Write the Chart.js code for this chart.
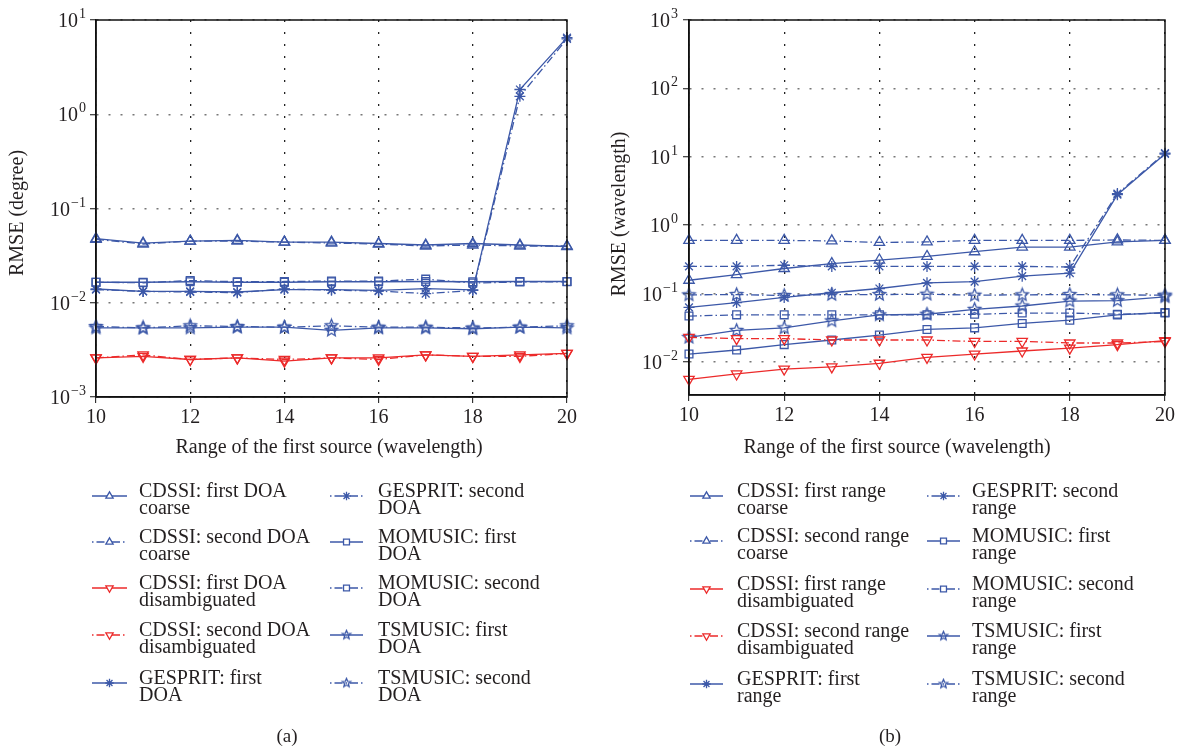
<!DOCTYPE html>
<html>
<head>
<meta charset="utf-8">
<script src="https://cdn.jsdelivr.net/npm/chart.js@4.4.1/dist/chart.umd.min.js"></script>
<style>
html, body { margin: 0; padding: 0; background: #fff; }
#wrap { position: relative; width: 1181px; height: 751px; }
canvas { position: absolute; top: 0; }
#chartA { left: 0; }
#chartB { left: 590px; }
</style>
</head>
<body>
<div id="wrap">
  <canvas id="chartA" width="590" height="751"></canvas>
  <canvas id="chartB" width="591" height="751"></canvas>
</div>
<script>
// range of the first source (wavelength)
const ranges = [10, 11, 12, 13, 14, 15, 16, 17, 18, 19, 20];
const xTicks = [10, 12, 14, 16, 18, 20];
const yTicksA = [1e-3, 1e-2, 1e-1, 1, 10];
const yTicksB = [1e-2, 1e-1, 1, 10, 100, 1000];

// (a) RMSE (degree)
const doaCoarse1 = [0.048, 0.043, 0.045, 0.046, 0.044, 0.044, 0.0425, 0.041, 0.0425, 0.041, 0.0395];
const doaCoarse2 = [0.047, 0.042, 0.045, 0.045, 0.044, 0.043, 0.042, 0.040, 0.041, 0.040, 0.040];
const doaDisamb1 = [0.0026, 0.0027, 0.0025, 0.0026, 0.0024, 0.0026, 0.0026, 0.0028, 0.0027, 0.0028, 0.0029];
const doaDisamb2 = [0.0026, 0.0028, 0.0025, 0.0026, 0.0025, 0.0026, 0.0025, 0.0028, 0.0027, 0.0027, 0.0029];
const doaGesprit1 = [0.014, 0.0132, 0.0132, 0.013, 0.0138, 0.0138, 0.0135, 0.0141, 0.0137, 1.83, 6.5];
const doaGesprit2 = [0.0138, 0.0132, 0.013, 0.0128, 0.014, 0.0136, 0.0133, 0.0125, 0.0135, 1.55, 6.3];
const doaMomusic1 = [0.0165, 0.0165, 0.0167, 0.0165, 0.0165, 0.0167, 0.0167, 0.0168, 0.0167, 0.0168, 0.0168];
const doaMomusic2 = [0.0165, 0.0163, 0.0172, 0.0167, 0.0168, 0.017, 0.017, 0.0178, 0.0162, 0.0166, 0.0167];
const doaTsmusic1 = [0.0054, 0.0054, 0.0054, 0.0055, 0.0055, 0.0051, 0.0054, 0.0054, 0.0053, 0.0055, 0.0054];
const doaTsmusic2 = [0.0056, 0.0054, 0.0057, 0.0056, 0.0055, 0.0057, 0.0055, 0.0055, 0.0054, 0.0055, 0.0057];

// (b) RMSE (wavelength)
const rngCoarse1 = [0.157, 0.19, 0.233, 0.275, 0.31, 0.35, 0.41, 0.48, 0.48, 0.57, 0.60];
const rngCoarse2 = [0.60, 0.60, 0.60, 0.59, 0.56, 0.57, 0.60, 0.60, 0.60, 0.61, 0.60];
const rngDisamb1 = [0.0056, 0.0067, 0.0079, 0.0085, 0.0096, 0.0117, 0.0131, 0.0145, 0.016, 0.018, 0.0206];
const rngDisamb2 = [0.023, 0.022, 0.022, 0.021, 0.021, 0.021, 0.020, 0.020, 0.019, 0.019, 0.020];
const rngGesprit1 = [0.063, 0.074, 0.088, 0.103, 0.119, 0.144, 0.15, 0.18, 0.20, 2.8, 11.0];
const rngGesprit2 = [0.25, 0.25, 0.26, 0.25, 0.25, 0.25, 0.25, 0.25, 0.245, 2.9, 11.3];
const rngMomusic1 = [0.0131, 0.015, 0.018, 0.021, 0.0248, 0.030, 0.0316, 0.0367, 0.041, 0.049, 0.053];
const rngMomusic2 = [0.047, 0.049, 0.049, 0.049, 0.049, 0.049, 0.050, 0.052, 0.052, 0.050, 0.052];
const rngTsmusic1 = [0.023, 0.029, 0.0316, 0.040, 0.049, 0.050, 0.059, 0.066, 0.078, 0.079, 0.090];
const rngTsmusic2 = [0.096, 0.097, 0.094, 0.097, 0.097, 0.098, 0.095, 0.096, 0.097, 0.096, 0.095];

const labelsA = ['CDSSI: first DOA\ncoarse', 'CDSSI: second DOA\ncoarse', 'CDSSI: first DOA\ndisambiguated',
  'CDSSI: second DOA\ndisambiguated', 'GESPRIT: first\nDOA', 'GESPRIT: second\nDOA', 'MOMUSIC: first\nDOA',
  'MOMUSIC: second\nDOA', 'TSMUSIC: first\nDOA', 'TSMUSIC: second\nDOA'];
const labelsB = ['CDSSI: first range\ncoarse', 'CDSSI: second range\ncoarse', 'CDSSI: first range\ndisambiguated',
  'CDSSI: second range\ndisambiguated', 'GESPRIT: first\nrange', 'GESPRIT: second\nrange', 'MOMUSIC: first\nrange',
  'MOMUSIC: second\nrange', 'TSMUSIC: first\nrange', 'TSMUSIC: second\nrange'];

const BLUE = '#3c58a8';
const RED = '#ec2a2a';
const INK = '#231f20';
const SERIF = '"Liberation Serif", "DejaVu Serif", serif';
const DASHDOT = [8, 3, 1.5, 3];

// five point star marker (no built-in one in chart.js)
function pentagram(color, r) {
  const c = document.createElement('canvas');
  const s = Math.ceil(r * 2 + 4);
  c.width = c.height = s;
  const g = c.getContext('2d');
  g.strokeStyle = color;
  g.lineWidth = 1.3;
  g.beginPath();
  for (let k = 0; k < 10; k++) {
    const rad = k % 2 ? r * 0.45 : r;
    const a = -Math.PI / 2 + k * Math.PI / 5;
    g.lineTo(s / 2 + rad * Math.cos(a), s / 2 + rad * Math.sin(a));
  }
  g.closePath();
  g.stroke();
  return c;
}
const starBig = pentagram(BLUE, 6.5);
const starSmall = pentagram(BLUE, 4.5);

// marker/line look of the 10 series, same order in both panels
const looks = [
  { color: BLUE, dash: [], mark: 'triangle', rot: 0, r: 6 },
  { color: BLUE, dash: DASHDOT, mark: 'triangle', rot: 0, r: 6 },
  { color: RED, dash: [], mark: 'triangle', rot: 180, r: 6 },
  { color: RED, dash: DASHDOT, mark: 'triangle', rot: 180, r: 6 },
  { color: BLUE, dash: [], mark: 'star', rot: 0, r: 5.5 },
  { color: BLUE, dash: DASHDOT, mark: 'star', rot: 0, r: 5.5 },
  { color: BLUE, dash: [], mark: 'rect', rot: 0, r: 5.5 },
  { color: BLUE, dash: DASHDOT, mark: 'rect', rot: 0, r: 5.5 },
  { color: BLUE, dash: [], mark: 'pent', rot: 0, r: 6 },
  { color: BLUE, dash: DASHDOT, mark: 'pent', rot: 0, r: 6 }
];

function buildSets(series, labels) {
  return series.map((vals, i) => {
    const lk = looks[i];
    return {
      label: labels[i],
      data: vals.map((v, j) => ({ x: ranges[j], y: v })),
      borderColor: lk.color,
      borderWidth: 1.3,
      borderDash: lk.dash,
      pointStyle: lk.mark === 'pent' ? starBig : lk.mark,
      pointRotation: lk.rot,
      pointRadius: lk.r,
      pointBorderWidth: 1.3,
      pointBorderColor: lk.color,
      pointBackgroundColor: 'rgba(0,0,0,0)',
      tension: 0,
      clip: false,
      legendLook: lk
    };
  });
}

function supLabel(ctx, value, xRight, y) {
  const e = Math.round(Math.log10(value));
  const exp = e < 0 ? '\u2212' + (-e) : String(e);
  ctx.font = '14px ' + SERIF;
  const we = ctx.measureText(exp).width;
  ctx.fillStyle = INK;
  ctx.textAlign = 'right';
  ctx.textBaseline = 'alphabetic';
  ctx.fillText(exp, xRight, y - 2);
  ctx.font = '20px ' + SERIF;
  ctx.fillText('10', xRight - we - 1, y + 7);
}

// frame, y labels, axis titles, legend and caption
const decor = {
  id: 'decor',
  afterDraw(chart, args, o) {
    const ctx = chart.ctx;
    const a = chart.chartArea;
    ctx.save();
    ctx.strokeStyle = '#111';
    ctx.lineWidth = 1.5;
    ctx.strokeRect(a.left, a.top, a.right - a.left, a.bottom - a.top);

    const ys = chart.scales.y;
    ys.ticks.forEach(t => supLabel(ctx, t.value, o.yLabelRight, ys.getPixelForValue(t.value)));

    ctx.fillStyle = INK;
    ctx.font = '20px ' + SERIF;
    ctx.textAlign = 'center';
    ctx.textBaseline = 'middle';
    ctx.fillText(o.xTitle, o.xTitleX, 448);
    ctx.save();
    ctx.translate(o.yTitleX, o.yTitleY);
    ctx.rotate(-Math.PI / 2);
    ctx.fillText(o.yTitle, 0, 0);
    ctx.restore();

    ctx.font = '19px ' + SERIF;
    ctx.fillText(o.caption, o.captionX, 737);

    // legend, two columns of five
    chart.data.datasets.forEach((ds, i) => {
      const col = o.cols[i < 5 ? 0 : 1];
      const y = o.rowY[i % 5];
      const lk = ds.legendLook;
      ctx.strokeStyle = lk.color;
      ctx.lineWidth = 1.3;
      ctx.setLineDash(lk.dash);
      ctx.lineDashOffset = lk.dash.length ? 11 : 0;
      ctx.beginPath();
      ctx.moveTo(col.x0, y);
      ctx.lineTo(col.x1, y);
      ctx.stroke();
      ctx.setLineDash([]);
      const mx = (col.x0 + col.x1) / 2;
      ctx.fillStyle = '#fff';
      Chart.helpers.drawPoint(ctx, {
        pointStyle: lk.mark === 'pent' ? starSmall : lk.mark,
        rotation: lk.rot, radius: 4.2, borderWidth: 1.3
      }, mx, y);
      ctx.fillStyle = INK;
      ctx.font = '20px ' + SERIF;
      ctx.textAlign = 'left';
      ctx.textBaseline = 'alphabetic';
      ds.label.split('\n').forEach((ln, k) => ctx.fillText(ln, col.tx, y + 1 + k * 17));
    });
    ctx.restore();
  }
};

function makeChart(id, series, labels, yMin, yMax, yTicks, pad, yw, deco) {
  return new Chart(document.getElementById(id).getContext('2d'), {
    type: 'line',
    data: { datasets: buildSets(series, labels) },
    plugins: [decor],
    options: {
      responsive: false,
      animation: false,
      devicePixelRatio: 1,
      layout: { padding: pad },
      plugins: { legend: { display: false }, tooltip: { enabled: false }, decor: deco },
      scales: {
        x: {
          type: 'linear', min: 10, max: 20,
          afterBuildTicks: s => { s.ticks = xTicks.map(v => ({ value: v })); },
          afterFit: s => { s.height = 60; },
          grid: { color: '#222', lineWidth: 1.3, tickLength: 6, tickColor: '#111', tickWidth: 1, tickBorderDash: [] },
          border: { display: true, color: '#111', width: 1.5, dash: [2, 10] },
          ticks: { font: { family: SERIF, size: 20 }, color: INK, padding: 3, maxRotation: 0 }
        },
        y: {
          type: 'logarithmic', min: yMin, max: yMax,
          afterBuildTicks: s => { s.ticks = yTicks.map(v => ({ value: v })); },
          afterFit: s => { s.width = yw; },
          grid: { color: '#777', lineWidth: 1.5, tickLength: 6, tickColor: '#111', tickWidth: 1, tickBorderDash: [] },
          border: { display: true, color: '#111', width: 1.5, dash: [2, 10] },
          ticks: { display: false }
        }
      }
    }
  });
}

makeChart('chartA',
  [doaCoarse1, doaCoarse2, doaDisamb1, doaDisamb2, doaGesprit1, doaGesprit2, doaMomusic1, doaMomusic2, doaTsmusic1, doaTsmusic2],
  labelsA, 1e-3, 10, yTicksA, { top: 20, right: 23, bottom: 294, left: 0 }, 96, {
    yLabelRight: 86, xTitle: 'Range of the first source (wavelength)', xTitleX: 329,
    yTitle: 'RMSE (degree)', yTitleX: 18, yTitleY: 213, caption: '(a)', captionX: 287,
    rowY: [496, 542, 588, 635, 683],
    cols: [{ x0: 92, x1: 127, tx: 139 }, { x0: 330, x1: 363, tx: 378 }]
  });

makeChart('chartB',
  [rngCoarse1, rngCoarse2, rngDisamb1, rngDisamb2, rngGesprit1, rngGesprit2, rngMomusic1, rngMomusic2, rngTsmusic1, rngTsmusic2],
  labelsB, 0.0033, 1000, yTicksB, { top: 20, right: 16, bottom: 296, left: 0 }, 99, {
    yLabelRight: 88, xTitle: 'Range of the first source (wavelength)', xTitleX: 307,
    yTitle: 'RMSE (wavelength)', yTitleX: 30, yTitleY: 214, caption: '(b)', captionX: 300,
    rowY: [496, 541, 589, 636, 684],
    cols: [{ x0: 100, x1: 133, tx: 147 }, { x0: 337, x1: 370, tx: 382 }]
  });
</script>
</body>
</html>
